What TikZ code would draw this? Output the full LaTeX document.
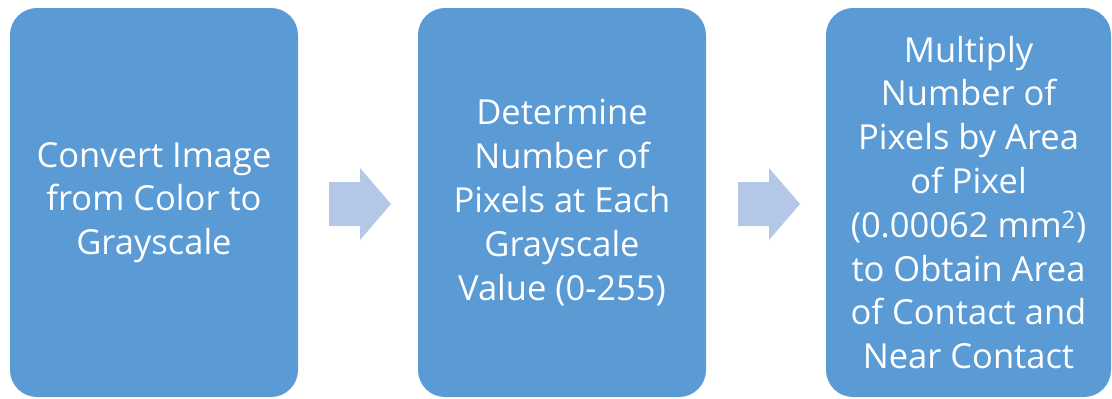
\documentclass[tikz,border=0pt]{standalone}
\usepackage{fontspec}
\setmainfont{Open Sans}
\definecolor{boxblue}{HTML}{5B9BD5}
\definecolor{arrowblue}{HTML}{B4C7E7}
\begin{document}
\begin{tikzpicture}[x=1pt,y=-1pt,
  stepbox/.style={fill=boxblue, draw=none, rounded corners=27pt, minimum height=389pt, inner sep=0pt,
    text=white, align=center, font=\fontsize{34.5}{43.8}\selectfont},
  flowarrow/.style={fill=arrowblue, draw=none}]
\useasboundingbox (0,0) rectangle (1112,399);
\node[stepbox, minimum width=288pt] (b1) at (154,202.5) {Convert Image\\from Color to\\Grayscale};
\node[stepbox, minimum width=288pt] (b2) at (562,202.5) {Determine\\Number of\\Pixels at Each\\Grayscale\\Value (0-255)};
\node[stepbox, minimum width=285pt] (b3) at (968.5,202.5) {Multiply\\Number of\\Pixels by Area\\of Pixel\\(0.00062 mm\textsuperscript{2})\\to Obtain Area\\of Contact and\\Near Contact};
\coordinate (a1) at (360,204);
\coordinate (a2) at (769,204);
\foreach \a in {a1,a2}{
  \fill[flowarrow] ([shift={(-31,-22)}]\a) -- ([shift={(0,-22)}]\a) -- ([shift={(0,-36)}]\a)
    -- ([shift={(31,0)}]\a) -- ([shift={(0,36)}]\a) -- ([shift={(0,22)}]\a)
    -- ([shift={(-31,22)}]\a) -- cycle;
}
\end{tikzpicture}
\end{document}
